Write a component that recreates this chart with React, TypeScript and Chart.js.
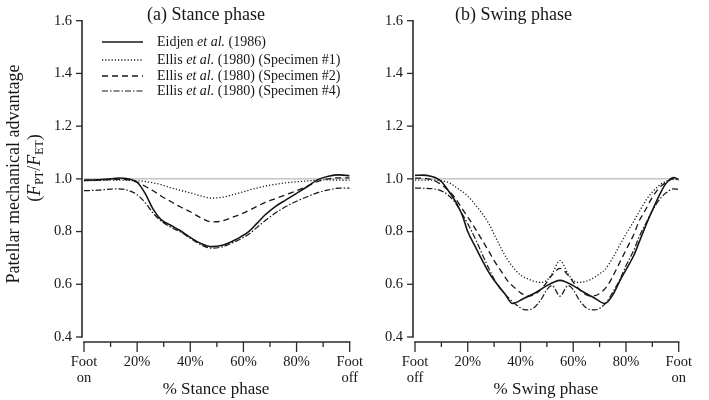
import React, { useEffect, useRef } from 'react';
import { Chart, registerables } from 'chart.js';

Chart.register(...registerables);

const FONT = '"Liberation Serif", "Times New Roman", serif';
const INK = '#161616';

// ---------- Stance phase (a) ----------
const stancePct = [0, 5, 10, 13, 17, 20, 23, 26, 29, 33, 36, 40, 44, 48, 52, 56, 59, 62, 65, 68, 72, 76, 80, 84, 88, 92, 96, 100];
const stanceEidjen = [0.995, 0.996, 1.0, 1.003, 0.999, 0.987, 0.945, 0.885, 0.845, 0.822, 0.805, 0.778, 0.755, 0.743, 0.748, 0.764, 0.78, 0.8, 0.83, 0.862, 0.895, 0.92, 0.945, 0.97, 0.997, 1.01, 1.015, 1.012];
const stanceSpec1 = [0.993, 0.994, 0.995, 0.995, 0.994, 0.993, 0.99, 0.985, 0.978, 0.965, 0.957, 0.947, 0.935, 0.927, 0.93, 0.94, 0.948, 0.957, 0.965, 0.972, 0.979, 0.985, 0.989, 0.992, 0.995, 0.996, 0.995, 0.994];
const stanceSpec2 = [0.993, 0.995, 0.997, 0.998, 0.996, 0.987, 0.972, 0.955, 0.935, 0.912, 0.895, 0.875, 0.852, 0.837, 0.84, 0.855, 0.866, 0.88, 0.895, 0.91, 0.925, 0.94, 0.955, 0.972, 0.99, 1.0, 1.004, 1.004];
const stanceSpec4 = [0.955, 0.957, 0.961, 0.962, 0.955, 0.94, 0.91, 0.87, 0.84, 0.815, 0.8, 0.775, 0.75, 0.737, 0.742, 0.758, 0.772, 0.79, 0.815, 0.84, 0.87, 0.895, 0.915, 0.932, 0.948, 0.958, 0.965, 0.965];
const stanceTickLabels = [['Foot', 'on'], '20%', '40%', '60%', '80%', ['Foot', 'off']];

// ---------- Swing phase (b) ----------
const swingEidjenPct = [0, 3, 6, 8, 10, 13, 15, 18, 20, 23, 25, 28, 30, 34, 37, 41, 46, 50, 53, 55, 57, 60, 64, 68, 72, 75, 78, 80, 83, 85, 88, 90, 93, 95, 98, 100];
const swingEidjen = [1.013, 1.014, 1.01, 1.003, 0.99, 0.95, 0.92, 0.86, 0.8, 0.74, 0.7, 0.645, 0.615, 0.565, 0.527, 0.545, 0.57, 0.595, 0.61, 0.615, 0.61, 0.595, 0.57, 0.548, 0.527, 0.56, 0.62, 0.655, 0.71, 0.76, 0.835, 0.88, 0.945, 0.98, 1.005, 0.998];
const swingSpec1Pct = [0, 5, 10, 13, 16, 20, 23, 25, 28, 30, 33, 35, 38, 40, 43, 45, 48, 50, 52, 55, 58, 60, 62, 65, 67, 70, 72, 75, 78, 80, 83, 85, 88, 90, 93, 95, 98, 100];
const swingSpec1 = [0.995, 0.995, 0.993, 0.985, 0.965, 0.935, 0.9, 0.875, 0.83, 0.79, 0.73, 0.695, 0.655, 0.635, 0.62, 0.612, 0.607, 0.615, 0.64, 0.69, 0.64, 0.615, 0.607, 0.612, 0.62, 0.64, 0.655, 0.7, 0.755, 0.79, 0.84, 0.875, 0.925, 0.95, 0.978, 0.99, 1.0, 0.995];
const swingSpec2Pct = [0, 5, 8, 10, 12, 15, 18, 20, 22, 25, 28, 30, 33, 35, 38, 40, 43, 46, 49, 52, 55, 58, 61, 64, 67, 70, 73, 75, 78, 80, 83, 85, 87, 90, 93, 95, 98, 100];
const swingSpec2 = [1.003, 1.0, 0.99, 0.978, 0.962, 0.93, 0.885, 0.855, 0.825, 0.775, 0.725, 0.69, 0.645, 0.615, 0.585, 0.568, 0.555, 0.565, 0.595, 0.635, 0.66, 0.635, 0.595, 0.565, 0.555, 0.565, 0.595, 0.63, 0.69, 0.73, 0.79, 0.84, 0.875, 0.93, 0.97, 0.985, 1.0, 0.995];
const swingSpec4Pct = [0, 4, 7, 9, 12, 15, 18, 20, 23, 25, 28, 30, 33, 35, 38, 42, 45, 48, 50, 52, 55, 58, 60, 62, 65, 68, 72, 75, 78, 80, 83, 85, 88, 90, 93, 95, 98, 100];
const swingSpec4 = [0.965, 0.964, 0.962, 0.958, 0.943, 0.913, 0.865, 0.83, 0.77, 0.725, 0.66, 0.62, 0.575, 0.553, 0.525, 0.503, 0.51, 0.545, 0.58, 0.595, 0.555, 0.595, 0.58, 0.545, 0.51, 0.503, 0.525, 0.57, 0.625, 0.67, 0.73, 0.78, 0.84, 0.88, 0.925, 0.945, 0.962, 0.96];
const swingTickLabels = [['Foot', 'off'], '20%', '40%', '60%', '80%', ['Foot', 'on']];

const refPct = [0, 100];
const refValue = [1.0, 1.0];

const legendLabels: [string, boolean][][] = [
  [['Eidjen ', false], ['et al.', true], [' (1986)', false]],
  [['Ellis ', false], ['et al.', true], [' (1980) (Specimen #1)', false]],
  [['Ellis ', false], ['et al.', true], [' (1980) (Specimen #2)', false]],
  [['Ellis ', false], ['et al.', true], [' (1980) (Specimen #4)', false]],
];
const lineDashes = [[], [1.2, 2], [6, 4], [6, 2, 1.5, 2]];
const lineWidths = [1.6, 1.3, 1.3, 1.2];

const pts = (xs: number[], ys: number[]) => xs.map((x, i) => ({ x, y: ys[i] }));

function datasets(series: { x: number[]; y: number[] }[]) {
  const ds: any[] = series.map((s, i) => ({
    data: pts(s.x, s.y),
    borderColor: INK,
    borderWidth: lineWidths[i],
    borderDash: lineDashes[i],
    pointRadius: 0,
    cubicInterpolationMode: 'monotone',
    fill: false,
  }));
  ds.push({
    data: pts(refPct, refValue),
    borderColor: '#a9a9a9',
    borderWidth: 1,
    pointRadius: 0,
    fill: false,
  });
  return ds;
}

function drawRuns(ctx: CanvasRenderingContext2D, x: number, y: number, runs: [string, boolean][], size: number) {
  let cx = x;
  for (const [t, it] of runs) {
    ctx.font = `${it ? 'italic ' : ''}${size}px ${FONT}`;
    ctx.fillText(t, cx, y);
    cx += ctx.measureText(t).width;
  }
}

type Extra = {
  title: string;
  titleX: number;
  xTitle: string;
  xTitleX: number;
  legend: boolean;
  yTitle: boolean;
};

function makePlugin(extra: Extra) {
  return {
    id: 'paperDecor',
    afterDraw(chart: any) {
      const { ctx, scales } = chart;
      const x = scales.x;
      const y = scales.y;
      ctx.save();
      // axes (detached style)
      ctx.strokeStyle = '#2a2a2a';
      ctx.lineWidth = 1.6;
      const ax = chart.chartArea.left - 2;
      const yTop = y.getPixelForValue(1.6);
      const yBot = y.getPixelForValue(0.4);
      ctx.beginPath();
      ctx.moveTo(ax, yTop - 0.8);
      ctx.lineTo(ax, yBot + 0.8);
      ctx.stroke();
      ctx.lineWidth = 1.3;
      y.ticks.forEach((t: any) => {
        const py = y.getPixelForValue(t.value);
        ctx.beginPath();
        ctx.moveTo(ax - 6, py);
        ctx.lineTo(ax, py);
        ctx.stroke();
      });
      const xy = yBot + 5;
      ctx.lineWidth = 1.6;
      ctx.beginPath();
      ctx.moveTo(x.getPixelForValue(0) - 0.8, xy);
      ctx.lineTo(x.getPixelForValue(100) + 0.8, xy);
      ctx.stroke();
      ctx.lineWidth = 1.3;
      for (let v = 0; v <= 100; v += 10) {
        const px = x.getPixelForValue(v);
        ctx.beginPath();
        ctx.moveTo(px, xy);
        ctx.lineTo(px, xy + (v % 20 === 0 ? 10 : 5));
        ctx.stroke();
      }

      ctx.fillStyle = INK;
      ctx.textBaseline = 'middle';
      // panel title
      ctx.textAlign = 'left';
      ctx.font = `18px ${FONT}`;
      ctx.fillText(extra.title, extra.titleX, 15);
      // x title
      ctx.textAlign = 'center';
      ctx.font = `17px ${FONT}`;
      ctx.fillText(extra.xTitle, extra.xTitleX, 390);

      if (extra.legend) {
        const rows = [42, 60, 76, 91];
        ctx.textAlign = 'left';
        rows.forEach((ry, i) => {
          ctx.save();
          ctx.strokeStyle = INK;
          ctx.lineWidth = lineWidths[i];
          ctx.setLineDash(lineDashes[i]);
          ctx.beginPath();
          ctx.moveTo(102, ry);
          ctx.lineTo(143, ry);
          ctx.stroke();
          ctx.restore();
          drawRuns(ctx, 157, ry, legendLabels[i], 14);
        });
      }

      if (extra.yTitle) {
        ctx.save();
        ctx.translate(14, 174);
        ctx.rotate(-Math.PI / 2);
        ctx.textAlign = 'center';
        ctx.font = `18px ${FONT}`;
        ctx.fillText('Patellar mechanical advantage', 0, 0);
        ctx.restore();

        ctx.save();
        ctx.translate(35, 168);
        ctx.rotate(-Math.PI / 2);
        ctx.textAlign = 'left';
        const parts: [string, string, number][] = [
          ['(', '', 0], ['F', 'italic ', 0], ['PT', 'sub', 5], ['/', '', 0], ['F', 'italic ', 0], ['ET', 'sub', 5], [')', '', 0],
        ];
        const fontOf = (k: string) => (k === 'sub' ? `12px ${FONT}` : `${k}18px ${FONT}`);
        let w = 0;
        parts.forEach(([t, k]) => { ctx.font = fontOf(k); w += ctx.measureText(t).width; });
        let cx = -w / 2;
        parts.forEach(([t, k, dy]) => {
          ctx.font = fontOf(k);
          ctx.fillText(t, cx, dy);
          cx += ctx.measureText(t).width;
        });
        ctx.restore();
      }
      ctx.restore();
    },
  };
}

function makeConfig(series: { x: number[]; y: number[] }[], tickLabels: any[], padRight: number, yWidth: number, extra: Extra): any {
  return {
    type: 'line',
    data: { datasets: datasets(series) },
    options: {
      responsive: false,
      animation: false,
      events: [],
      layout: { padding: { top: 10, right: padRight, left: 0, bottom: 0 } },
      plugins: { legend: { display: false }, tooltip: { enabled: false }, title: { display: false } },
      scales: {
        x: {
          type: 'linear',
          min: 0,
          max: 100,
          grid: { display: false, drawTicks: false },
          border: { display: false },
          ticks: {
            stepSize: 20,
            autoSkip: false,
            maxRotation: 0,
            padding: 17,
            color: INK,
            font: { family: FONT, size: 14.5, lineHeight: 1.1 },
            callback: (_v: any, i: number) => tickLabels[i],
          },
          afterFit: (s: any) => { s.height = 63; },
        },
        y: {
          type: 'linear',
          min: 0.4,
          max: 1.6,
          grid: { display: false, drawTicks: false },
          border: { display: false },
          ticks: {
            stepSize: 0.2,
            padding: 12,
            color: INK,
            font: { family: FONT, size: 14.5 },
            callback: (v: any) => Number(v).toFixed(1),
          },
          afterFit: (s: any) => { s.width = yWidth; },
        },
      },
    },
    plugins: [makePlugin(extra)],
  };
}

function Panel({ left, width, config }: { left: number; width: number; config: any }) {
  const ref = useRef<HTMLCanvasElement | null>(null);
  useEffect(() => {
    if (!ref.current) return;
    const chart = new Chart(ref.current, config);
    return () => chart.destroy();
  }, []);
  return (
    <canvas
      ref={ref}
      width={width}
      height={400}
      style={{ position: 'absolute', left, top: 0, width, height: 400 }}
    />
  );
}

export default function App() {
  const stanceConfig = makeConfig(
    [
      { x: stancePct, y: stanceEidjen },
      { x: stancePct, y: stanceSpec1 },
      { x: stancePct, y: stanceSpec2 },
      { x: stancePct, y: stanceSpec4 },
    ],
    stanceTickLabels,
    18,
    84,
    { title: '(a) Stance phase', titleX: 147, xTitle: '% Stance phase', xTitleX: 216, legend: true, yTitle: true },
  );
  const swingConfig = makeConfig(
    [
      { x: swingEidjenPct, y: swingEidjen },
      { x: swingSpec1Pct, y: swingSpec1 },
      { x: swingSpec2Pct, y: swingSpec2 },
      { x: swingSpec4Pct, y: swingSpec4 },
    ],
    swingTickLabels,
    16,
    35,
    { title: '(b) Swing phase', titleX: 75, xTitle: '% Swing phase', xTitleX: 166, legend: false, yTitle: false },
  );
  return (
    <div style={{ position: 'absolute', left: 0, top: 0, width: 709, height: 400, background: '#fff', overflow: 'hidden' }}>
      <Panel left={0} width={380} config={stanceConfig} />
      <Panel left={380} width={329} config={swingConfig} />
    </div>
  );
}
